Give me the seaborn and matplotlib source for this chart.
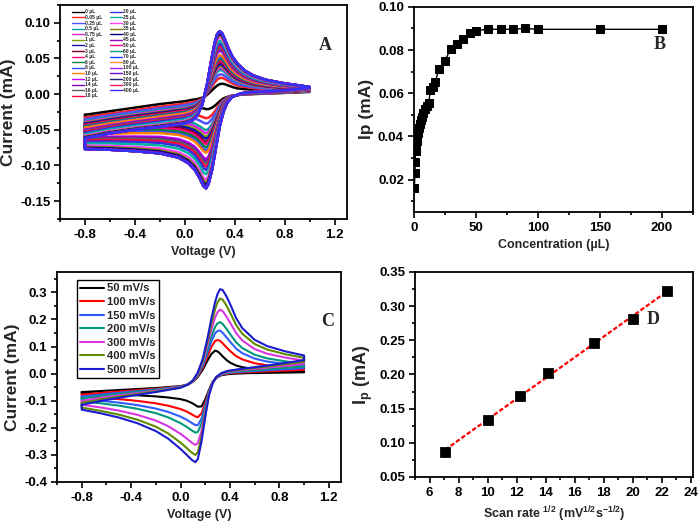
import numpy as np
import pandas as pd
import matplotlib
matplotlib.use("Agg")
import matplotlib.pyplot as plt
import seaborn as sns
from matplotlib.ticker import MultipleLocator, FormatStrFormatter

# ---------------- Panel A data ----------------
A_labels = ["0 µL", "0.05 µL", "0.25 µL", "0.5 µL", "0.75 µL", "1 µL", "2 µL", "3 µL",
            "4 µL", "6 µL", "8 µL", "10 µL", "12 µL", "14 µL", "16 µL",
            "18 µL", "20 µL", "25 µL", "30 µL", "35 µL", "40 µL", "45 µL", "50 µL",
            "60 µL", "70 µL", "80 µL", "100 µL", "150 µL", "200 µL", "300 µL", "400 µL"]
A_peak = [0.0145, 0.023, 0.028, 0.034, 0.037, 0.040, 0.042, 0.045, 0.047, 0.050, 0.053,
          0.055, 0.061, 0.063, 0.065, 0.068, 0.071, 0.075, 0.080, 0.083, 0.085, 0.087,
          0.088, 0.088, 0.088, 0.088, 0.088, 0.088, 0.088, 0.088, 0.088]
A_colors = ["#000000", "#ff2020", "#5050ff", "#00a0a0", "#e020e0", "#80a000", "#1010b0",
            "#800020", "#ff0080", "#008040", "#3050ff", "#ff8000", "#c000ff", "#8000c0",
            "#606060",
            "#ff0040", "#3030e0", "#00b0a0", "#ff40ff", "#808000", "#000080", "#a000c0",
            "#ff0080", "#00a080", "#2040ff", "#ff9040", "#b020ff", "#7000d0", "#202080",
            "#ff1060", "#3030ff"]
# forward (anodic) branch, 0 µL and 400 µL curves
A_vf = [-0.8, -0.6, -0.4, -0.2, 0.0, 0.06, 0.10, 0.14, 0.18, 0.21, 0.24, 0.26, 0.28,
        0.30, 0.32, 0.35, 0.38, 0.42, 0.48, 0.55, 0.65, 0.8, 1.0]
A_f_low = [-0.029, -0.024, -0.019, -0.014, -0.010, -0.008, -0.007, -0.005, -0.001, 0.004,
           0.009, 0.012, 0.014, 0.0145, 0.014, 0.012, 0.010, 0.008, 0.007, 0.006, 0.005,
           0.005, 0.005]
A_f_high = [-0.062, -0.055, -0.050, -0.046, -0.041, -0.037, -0.030, -0.015, 0.015, 0.045,
            0.072, 0.084, 0.088, 0.085, 0.077, 0.064, 0.053, 0.043, 0.033, 0.026, 0.020,
            0.015, 0.010]
# reverse (cathodic) branch
A_vr = [1.0, 0.85, 0.7, 0.55, 0.45, 0.38, 0.34, 0.31, 0.28, 0.25, 0.22, 0.19, 0.17, 0.15,
        0.12, 0.08, 0.03, -0.05, -0.2, -0.4, -0.6, -0.8]
A_r_low = [0.003, 0.002, 0.001, 0.0, -0.001, -0.002, -0.004, -0.006, -0.010, -0.015,
           -0.019, -0.021, -0.021, -0.020, -0.019, -0.018, -0.018, -0.018, -0.020, -0.024,
           -0.028, -0.033]
A_r_high = [0.009, 0.006, 0.004, 0.003, 0.001, -0.004, -0.012, -0.025, -0.045, -0.075,
            -0.105, -0.126, -0.132, -0.129, -0.118, -0.106, -0.097, -0.089, -0.083, -0.080,
            -0.078, -0.077]

# ---------------- Panel B data ----------------
B_conc = [0.5, 1, 1.2, 1.5, 2, 2.5, 3, 3.5, 4, 5, 6, 6.5, 7.5, 9, 11, 12, 13.5, 15.5,
          17.5, 20, 25, 30, 35, 40, 45, 50, 60, 70, 80, 90, 100, 150, 200]
B_ip = [0.016, 0.023, 0.028, 0.0334, 0.0357, 0.038, 0.040, 0.0418, 0.0437, 0.0457,
        0.0477, 0.049, 0.051, 0.0526, 0.054, 0.0554, 0.0615, 0.0627, 0.065, 0.071, 0.075,
        0.0806, 0.083, 0.085, 0.088, 0.089, 0.0896, 0.0896, 0.0896, 0.0900, 0.0896,
        0.0896, 0.0896]

# ---------------- Panel C data ----------------
C_labels = ["50 mV/s", "100 mV/s", "150 mV/s", "200 mV/s", "300 mV/s", "400 mV/s", "500 mV/s"]
C_colors = ["#000000", "#ff0000", "#2f5cff", "#00987a", "#d836e0", "#5f8a00", "#1a1ad0"]
C_ipa = [0.085, 0.130, 0.166, 0.196, 0.240, 0.279, 0.312]
C_ipc = [-0.122, -0.163, -0.194, -0.221, -0.265, -0.301, -0.327]
C_vf = [-0.8, -0.6, -0.4, -0.2, 0.0, 0.06, 0.10, 0.14, 0.18, 0.22, 0.25, 0.28, 0.30,
        0.32, 0.34, 0.37, 0.40, 0.45, 0.50, 0.60, 0.70, 0.85, 1.0]
C_f_low = [-0.068, -0.063, -0.058, -0.053, -0.046, -0.040, -0.030, -0.012, 0.015, 0.050,
           0.073, 0.085, 0.082, 0.074, 0.064, 0.051, 0.041, 0.030, 0.024, 0.017, 0.013,
           0.010, 0.008]
C_f_high = [-0.115, -0.097, -0.082, -0.068, -0.052, -0.040, -0.025, 0.005, 0.055, 0.135,
            0.205, 0.265, 0.295, 0.312, 0.309, 0.287, 0.258, 0.205, 0.168, 0.125, 0.102,
            0.082, 0.067]
C_vr = [1.0, 0.85, 0.70, 0.55, 0.45, 0.38, 0.33, 0.29, 0.26, 0.23, 0.20, 0.17, 0.14,
        0.12, 0.09, 0.05, 0.0, -0.1, -0.2, -0.35, -0.5, -0.65, -0.8]
C_r_low = [0.005, 0.004, 0.003, 0.002, 0.000, -0.002, -0.006, -0.015, -0.030, -0.060,
           -0.095, -0.121, -0.122, -0.116, -0.108, -0.100, -0.094, -0.088, -0.084, -0.080,
           -0.077, -0.075, -0.073]
C_r_high = [0.050, 0.040, 0.030, 0.021, 0.015, 0.010, 0.002, -0.012, -0.035, -0.080,
            -0.160, -0.250, -0.315, -0.327, -0.318, -0.300, -0.278, -0.240, -0.212, -0.183,
            -0.162, -0.146, -0.133]

# ---------------- Panel D data ----------------
D_rate = [7.07, 10.0, 12.25, 14.14, 17.32, 20.0, 22.36]
D_ip = [0.087, 0.134, 0.169, 0.202, 0.246, 0.281, 0.322]

# ---------------- style ----------------
sns.set_theme(style="ticks")
plt.rcParams["font.family"] = ["Liberation Sans", "DejaVu Sans"]
plt.rcParams["font.weight"] = "bold"
plt.rcParams["axes.labelweight"] = "bold"
plt.rcParams["axes.unicode_minus"] = False
plt.rcParams["mathtext.fontset"] = "custom"
plt.rcParams["mathtext.rm"] = "Liberation Sans:bold"
plt.rcParams["mathtext.bf"] = "Liberation Sans:bold"
plt.rcParams["mathtext.it"] = "Liberation Sans:bold"
plt.rcParams["mathtext.default"] = "bf"

fig = plt.figure(figsize=(7.0, 5.26), dpi=100)
axA = fig.add_axes([0.0857, 0.5837, 0.41, 0.407])
axB = fig.add_axes([0.591, 0.597, 0.399, 0.390])
axC = fig.add_axes([0.0814, 0.0837, 0.406, 0.399])
axD = fig.add_axes([0.593, 0.0932, 0.397, 0.390])

FS = 9.5      # tick labels
XFS = 9       # x labels
YFS = 12.5    # y labels (long in the reference)


def style_axes(ax, xmaj, xmin, ymaj, ymin):
    for s in ax.spines.values():
        s.set_linewidth(1.3)
        s.set_color("black")
    ax.xaxis.set_major_locator(MultipleLocator(xmaj))
    ax.xaxis.set_minor_locator(MultipleLocator(xmin))
    ax.yaxis.set_major_locator(MultipleLocator(ymaj))
    ax.yaxis.set_minor_locator(MultipleLocator(ymin))
    ax.tick_params(which="both", direction="out", top=False, right=False,
                   width=1.2, colors="black", labelsize=FS, pad=2.5)
    ax.tick_params(which="major", length=4.5)
    ax.tick_params(which="minor", length=2.5)
    for lab in ax.get_xticklabels() + ax.get_yticklabels():
        lab.set_fontweight("bold")


def cv_path(vf, f_lo, f_hi, vr, r_lo, r_hi, wf, wr):
    f_lo, f_hi = np.asarray(f_lo), np.asarray(f_hi)
    r_lo, r_hi = np.asarray(r_lo), np.asarray(r_hi)
    fwd = f_lo + wf * (f_hi - f_lo)
    rev = r_lo + wr * (r_hi - r_lo)
    v = np.concatenate([vf, vr, [vf[0]]])
    i = np.concatenate([fwd, rev, [fwd[0]]])
    return v, i


# ---------------- Panel A ----------------
pa_lo, pa_hi = max(A_f_low), max(A_f_high)
for lab, pk, col in zip(A_labels, A_peak, A_colors):
    w = float(np.clip((pk - pa_lo) / (pa_hi - pa_lo), 0, 1))
    v, i = cv_path(A_vf, A_f_low, A_f_high, A_vr, A_r_low, A_r_high, w, w)
    sns.lineplot(x=v, y=i, sort=False, estimator=None, color=col, lw=1.8,
                 label=lab, ax=axA, legend=False)
axA.set_xlim(-1.0, 1.3)
axA.set_ylim(-0.175, 0.125)
axA.set_xlabel("Voltage (V)", fontsize=XFS, fontweight="bold")
axA.set_ylabel("Current (mA)", fontsize=YFS, fontweight="bold", labelpad=3)
style_axes(axA, 0.4, 0.2, 0.05, 0.025)
axA.yaxis.set_major_formatter(FormatStrFormatter("%.2f"))
axA.xaxis.set_major_formatter(FormatStrFormatter("%.1f"))
hA, lA = axA.get_legend_handles_labels()
legA = axA.legend(hA, lA, ncol=2, loc="upper left", bbox_to_anchor=(0.03, 0.995),
                  frameon=False, fontsize=3.6, handlelength=2.3, labelspacing=0.12,
                  columnspacing=1.6, handletextpad=0.3, borderpad=0.2)
for t in legA.get_texts():
    t.set_fontweight("bold")
for ln in legA.get_lines():
    ln.set_linewidth(1.0)
axA.text(0.923, 0.81, "A", transform=axA.transAxes, fontsize=13, fontweight="bold",
         family="Liberation Serif", ha="center", va="center")

# ---------------- Panel B ----------------
sns.lineplot(x=B_conc, y=B_ip, sort=False, estimator=None, color="black", lw=1.0,
             marker="s", markersize=6, markeredgecolor="black", ax=axB)
axB.set_xlim(0, 225)
axB.set_ylim(0.005, 0.10)
axB.set_xlabel("Concentration (µL)", fontsize=XFS, fontweight="bold")
axB.set_ylabel("Ip (mA)", fontsize=YFS, fontweight="bold", labelpad=3)
style_axes(axB, 50, 25, 0.02, 0.01)
axB.yaxis.set_major_formatter(FormatStrFormatter("%.2f"))
axB.text(0.882, 0.815, "B", transform=axB.transAxes, fontsize=13, fontweight="bold",
         family="Liberation Serif", ha="center", va="center")

# ---------------- Panel C ----------------
pc_lo, pc_hi = max(C_f_low), max(C_f_high)
qc_lo, qc_hi = min(C_r_low), min(C_r_high)
for lab, ipa, ipc, col in zip(C_labels, C_ipa, C_ipc, C_colors):
    wf = float(np.clip((ipa - pc_lo) / (pc_hi - pc_lo), 0, 1))
    wr = float(np.clip((ipc - qc_lo) / (qc_hi - qc_lo), 0, 1))
    v, i = cv_path(C_vf, C_f_low, C_f_high, C_vr, C_r_low, C_r_high, wf, wr)
    sns.lineplot(x=v, y=i, sort=False, estimator=None, color=col, lw=1.5,
                 label=lab, ax=axC, legend=False)
axC.set_xlim(-1.0, 1.3)
axC.set_ylim(-0.4, 0.375)
axC.set_xlabel("Voltage (V)", fontsize=XFS, fontweight="bold")
axC.set_ylabel("Current (mA)", fontsize=YFS, fontweight="bold", labelpad=3)
style_axes(axC, 0.4, 0.2, 0.1, 0.05)
axC.yaxis.set_major_formatter(FormatStrFormatter("%.1f"))
axC.xaxis.set_major_formatter(FormatStrFormatter("%.1f"))
hC, lC = axC.get_legend_handles_labels()
legC = axC.legend(hC, lC, loc="upper left", bbox_to_anchor=(0.07, 0.962),
                  borderaxespad=0.0, fontsize=8, handlelength=2.1, labelspacing=0.32,
                  handletextpad=0.3, borderpad=0.3, fancybox=False, framealpha=1,
                  edgecolor="black")
legC.get_frame().set_linewidth(1.0)
for t in legC.get_texts():
    t.set_fontweight("bold")
axC.text(0.954, 0.767, "C", transform=axC.transAxes, fontsize=13, fontweight="bold",
         family="Liberation Serif", ha="center", va="center")

# ---------------- Panel D ----------------
dfD = pd.DataFrame({"rate": D_rate, "ip": D_ip})
sns.regplot(data=dfD, x="rate", y="ip", ci=None, scatter=False, ax=axD,
            line_kws=dict(color="red", lw=1.6, ls=(0, (2, 1))))
sns.scatterplot(data=dfD, x="rate", y="ip", marker="s", s=50, color="black",
                edgecolor="black", ax=axD, zorder=3)
axD.set_xlim(5, 24.15)
axD.set_ylim(0.05, 0.35)
axD.set_xlabel(r"Scan rate $^{1/2}$ (mV$^{1/2}$s$^{-1/2}$)", fontsize=XFS, fontweight="bold")
axD.set_ylabel(r"I$_{p}$ (mA)", fontsize=YFS + 0.5, fontweight="bold", labelpad=3)
style_axes(axD, 2, 1, 0.05, 0.025)
axD.yaxis.set_major_formatter(FormatStrFormatter("%.2f"))
axD.text(0.855, 0.766, "D", transform=axD.transAxes, fontsize=13, fontweight="bold",
         family="Liberation Serif", ha="center", va="center")

fig.savefig("out.png", dpi=100)
